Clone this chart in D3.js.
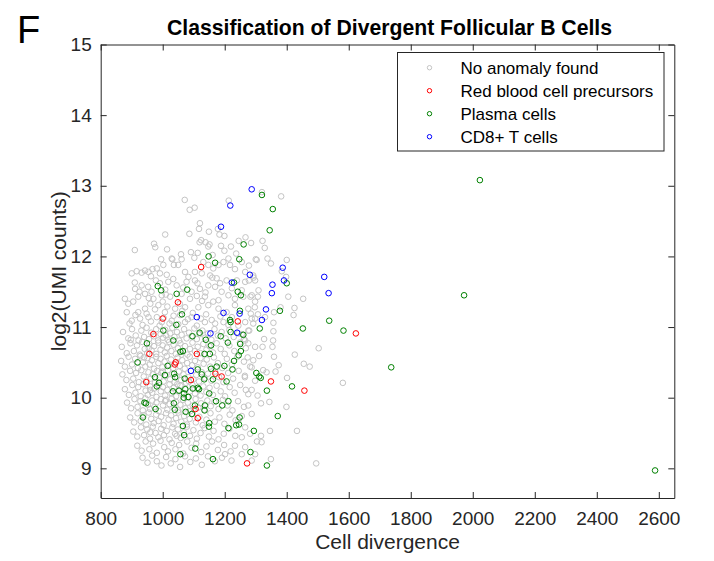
<!DOCTYPE html>
<html>
<head>
<meta charset="utf-8">
<script src="https://cdn.jsdelivr.net/npm/d3@7"></script>
<style>
  body { margin: 0; background: #fff; }
  svg { display: block; font-family: "Liberation Sans", Arial, sans-serif; }
</style>
</head>
<body>
<svg id="chart" width="714" height="561"></svg>
<script>
// ---- data ----
const xTicks = [800, 1000, 1200, 1400, 1600, 1800, 2000, 2200, 2400, 2600];
const yTicks = [9, 10, 11, 12, 13, 14, 15];

const legendLabels = ["No anomaly found", "Red blood cell precursors", "Plasma cells", "CD8+ T cells"];
const legendColors = ["#c4c4c4", "#ff0000", "#008000", "#0000ff"];

// grey cells, outer / sparse part of the cloud: [divergence, log2 UMI]
const noAnomalySparse = [
  [1320,12.91],[1382,12.85],[1322,12.22],[1285,12.19],[1329,12.12],[1300,11.96],[1338,11.97],[1349,11.90],
  [1400,11.95],[1384,11.79],[1398,11.71],[1293,11.70],[1278,11.66],[1309,11.52],[1283,11.43],[1307,11.43],
  [1405,11.43],[1453,11.40],[1425,11.27],[1422,11.17],[1380,11.28],[1359,11.21],[1297,11.28],[1284,11.19],
  [1287,11.12],[1307,11.18],[1330,11.14],[1357,11.06],[1276,10.77],[1298,10.72],[1265,10.29],[1298,10.24],
  [1287,10.43],[1274,10.57],[1292,10.53],[1276,10.95],[1292,11.05],[1255,10.90],[1266,10.81],[1287,10.11],
  [1276,10.05],[1276,9.89],[1287,9.77],[1266,9.58],[1282,9.49],[1244,9.68],[1255,9.44],[1233,9.32],
  [1255,9.20],[1222,9.11],[1201,9.20],[1287,9.11],[1266,9.30],
  [1357,10.94],[1327,10.83],[1356,10.81],[1354,10.72],[1322,10.72],[1311,10.59],[1359,10.58],[1426,10.61],
  [1503,10.70],[1455,10.48],[1474,10.44],[1374,10.46],[1364,10.37],[1335,10.36],[1324,10.39],[1401,10.28],
  [1581,10.21],[1306,10.03],[1317,9.92],[1344,9.94],[1399,9.87],[1346,9.53],[1433,9.53],[1317,9.46],
  [1319,9.37],[1304,9.38],[1349,9.13],[1495,9.07],[1298,9.20],
  [1213,12.79],[1071,12.80],[1087,12.66],[1103,12.69],[1120,12.47],[1117,12.39],[1086,12.32],[1008,12.31],
  [910,12.09],[972,12.18],[976,12.13],[1014,12.10],[1119,12.20],[1138,12.20],[1151,12.17],[1147,12.14],
  [1199,12.29],[1183,12.31],[1245,12.22],[1267,12.27],[1091,12.06],[1113,12.05],[1188,12.15],[1199,12.08],
  [1161,12.02],[1059,12.03],[1031,11.96],[995,11.96],[1212,11.97],[1237,12.04],[1178,12.39],[1149,12.35],
  [1124,12.23],[1220,12.14],
  [900,11.76],[916,11.79],[932,11.77],[943,11.80],[954,11.78],[967,11.82],[981,11.83],[991,11.76],
  [962,11.72],[1013,11.74],[1036,11.88],[1061,11.96],[1102,11.98],[1131,11.92],[1147,11.88],[1163,11.83],
  [1180,11.88],[1196,11.92],[1217,11.88],[1233,11.82],[1266,11.78],[1292,11.73],[1278,11.87],[1255,11.92],
  [1303,11.95],[1029,11.97],[1002,11.88],[1050,11.88],[1072,11.78],[1104,11.78],[1126,11.76],[1153,11.73],
  [1174,11.69],[1206,11.66],[1239,11.66],[1266,11.64],[1298,11.66],[878,11.40],[889,11.33],[905,11.36],
  [921,11.43],[943,11.47],[964,11.50],[997,11.45],[1024,11.43],[1061,11.47],[1093,11.50],[1120,11.54],
  [1147,11.59],[1169,11.57],[1190,11.50],[1212,11.45],[1233,11.40],[1260,11.43],[1287,11.45],[1298,11.36],
  [1276,11.26],[921,11.21],[943,11.26],[986,11.31],[1007,11.21],[1040,11.26],[1072,11.28],[1115,11.28],
  [1147,11.31],[1180,11.26],[1206,11.21],[1233,11.31],[900,11.09],[927,11.12],[954,11.14],[1029,11.09],
  [1072,11.07],[1136,11.07],[1169,11.05],[1266,11.07],[1298,11.12],[981,11.14],[997,11.07],[1056,11.17],
  [1093,11.14],[1110,11.02],[1196,11.07],[1223,11.14],[1244,11.02],[884,11.21],[970,11.40],[1045,11.59],
  [1077,11.64],[1104,11.66],[1088,11.40],[1136,11.43],[1163,11.36],[1255,11.52],[911,11.54],[932,11.59],
  [991,11.62],[1018,11.64],
  [893,11.05],[912,11.17],[935,11.03],[948,11.19],[962,11.08],[975,11.25],[990,11.02],[1003,11.13],
  [1015,11.29],[1022,11.05],[1035,11.16],[1050,11.04],[1063,11.23],[1081,11.11],[1097,11.20],[1123,11.12],
  [1140,11.18],[1158,11.10],[1186,11.15],[1212,11.03],[1055,11.33],[1000,11.36],[960,11.33],[1127,11.37],
  [1180,11.38],[910,11.63],[925,11.50],[953,11.57],[978,11.66],[1008,11.53],[1034,11.68],[1066,11.56],
  [1083,11.71],[1112,11.62],[1138,11.49],[1160,11.70],[1185,11.62],[1223,11.55],[955,11.41],[1010,11.46],
  [1110,11.44]
];

// grey cells, dense core of the cloud (9.0 - 11.0): [divergence, log2 UMI]
const noAnomalyCore = [
  [872,10.93],[889,10.84],[901,10.97],[913,10.88],[922,10.81],[931,10.95],[940,10.86],[948,10.99],[956,10.83],
  [963,10.92],[971,10.87],[979,10.97],[985,10.81],[993,10.90],[1001,10.85],[1008,10.96],[1016,10.82],[1024,10.91],
  [1031,10.99],[1038,10.86],[1046,10.93],[1053,10.81],[1061,10.89],[1069,10.97],[1077,10.84],[1085,10.92],
  [1093,10.87],[1102,10.98],[1110,10.83],[1119,10.90],[1128,10.95],[1137,10.85],[1146,10.91],[1157,10.82],
  [1167,10.97],[1178,10.88],[1190,10.93],[1203,10.84],[1215,10.96],[1229,10.86],[1244,10.91],[1262,10.83],
  [1279,10.95],[897,10.82],[1011,10.88],
  [868,10.72],[884,10.63],[896,10.77],[907,10.66],[917,10.74],[926,10.61],[934,10.79],[942,10.69],[950,10.63],
  [957,10.76],[964,10.67],[972,10.73],[979,10.62],[986,10.78],[993,10.68],[1000,10.74],[1007,10.64],[1014,10.71],
  [1021,10.79],[1028,10.66],[1035,10.75],[1042,10.62],[1049,10.70],[1057,10.77],[1064,10.65],[1072,10.73],
  [1080,10.61],[1088,10.69],[1096,10.78],[1104,10.66],[1113,10.72],[1122,10.63],[1131,10.76],[1141,10.68],
  [1151,10.73],[1162,10.64],[1174,10.77],[1187,10.69],[1200,10.62],[1215,10.74],[1231,10.66],[1249,10.78],
  [1268,10.70],[955,10.70],[1060,10.61],
  [866,10.52],[878,10.44],[890,10.58],[901,10.47],[911,10.55],[920,10.42],[928,10.59],[936,10.50],[944,10.44],
  [951,10.56],[958,10.47],[965,10.53],[972,10.41],[979,10.58],[986,10.49],[993,10.55],[999,10.43],[1006,10.51],
  [1013,10.59],[1020,10.46],[1027,10.54],[1034,10.42],[1041,10.50],[1048,10.57],[1055,10.45],[1063,10.53],
  [1071,10.41],[1079,10.49],[1087,10.58],[1095,10.46],[1104,10.52],[1113,10.43],[1122,10.56],[1132,10.48],
  [1142,10.54],[1153,10.44],[1165,10.57],[1178,10.49],[1192,10.42],[1207,10.55],[1223,10.47],[1241,10.58],
  [1262,10.51],[1282,10.44],[940,10.57],
  [870,10.33],[883,10.25],[895,10.38],[905,10.27],[914,10.35],[923,10.22],[931,10.39],[939,10.30],[947,10.24],
  [954,10.36],[961,10.27],[968,10.33],[975,10.21],[982,10.38],[989,10.29],[996,10.35],[1003,10.23],[1010,10.31],
  [1017,10.39],[1024,10.26],[1031,10.34],[1038,10.22],[1045,10.30],[1052,10.37],[1059,10.25],[1067,10.33],
  [1075,10.21],[1083,10.29],[1091,10.38],[1099,10.26],[1108,10.32],[1117,10.23],[1126,10.36],[1136,10.28],
  [1146,10.34],[1157,10.24],[1169,10.37],[1182,10.29],[1196,10.22],[1211,10.35],[1227,10.27],[1245,10.38],
  [1265,10.31],[1000,10.37],[1085,10.23],
  [878,10.12],[891,10.04],[902,10.18],[912,10.07],[921,10.15],[929,10.02],[937,10.19],[945,10.10],[952,10.04],
  [959,10.16],[966,10.07],[973,10.13],[980,10.01],[987,10.18],[994,10.09],[1001,10.15],[1008,10.03],[1015,10.11],
  [1022,10.19],[1029,10.06],[1036,10.14],[1043,10.02],[1050,10.10],[1057,10.17],[1064,10.05],[1072,10.13],
  [1080,10.01],[1088,10.09],[1096,10.18],[1104,10.06],[1113,10.12],[1122,10.03],[1131,10.16],[1141,10.08],
  [1151,10.14],[1162,10.04],[1174,10.17],[1187,10.09],[1201,10.02],[1216,10.15],[1232,10.07],[1250,10.18],
  [1268,10.11],[960,10.11],[1047,10.19],
  [885,9.93],[898,9.85],[909,9.98],[919,9.87],[928,9.95],[936,9.82],[944,9.99],[952,9.90],[959,9.84],
  [966,9.96],[973,9.87],[980,9.93],[987,9.81],[994,9.98],[1001,9.89],[1008,9.95],[1015,9.83],[1022,9.91],
  [1029,9.99],[1036,9.86],[1043,9.94],[1050,9.82],[1057,9.90],[1065,9.97],[1073,9.85],[1081,9.93],
  [1089,9.81],[1097,9.89],[1106,9.98],[1115,9.86],[1124,9.92],[1134,9.83],[1144,9.96],[1155,9.88],
  [1167,9.94],[1180,9.84],[1194,9.97],[1209,9.89],[1225,9.82],[1243,9.95],[1262,9.87],[1010,9.97],[1100,9.84],
  [895,9.72],[908,9.65],[919,9.78],[929,9.67],[938,9.75],[947,9.62],[955,9.79],[963,9.70],[971,9.64],
  [979,9.76],[987,9.67],[995,9.73],[1003,9.61],[1011,9.78],[1019,9.69],[1027,9.75],[1035,9.63],[1043,9.71],
  [1051,9.79],[1060,9.66],[1069,9.74],[1078,9.62],[1087,9.70],[1097,9.77],[1107,9.65],[1118,9.73],
  [1129,9.61],[1141,9.69],[1154,9.78],[1168,9.66],[1183,9.72],[1199,9.63],[1216,9.76],[1235,9.68],[1255,9.74],
  [905,9.52],[918,9.45],[930,9.58],[940,9.47],[950,9.55],[959,9.42],[968,9.59],[977,9.50],[986,9.44],
  [995,9.56],[1004,9.47],[1013,9.53],[1022,9.41],[1031,9.58],[1040,9.49],[1049,9.55],[1058,9.43],[1068,9.51],
  [1078,9.59],[1088,9.46],[1099,9.54],[1110,9.42],[1122,9.50],[1135,9.57],[1149,9.45],[1164,9.53],
  [1180,9.41],[1197,9.49],[1215,9.56],[1234,9.46],[960,9.51],[1045,9.46],
  [918,9.32],[932,9.25],[945,9.38],[957,9.27],[969,9.35],[981,9.22],[993,9.39],[1005,9.30],[1017,9.24],
  [1029,9.36],[1041,9.27],[1053,9.33],[1066,9.21],[1079,9.38],[1093,9.29],[1108,9.35],[1124,9.23],
  [1141,9.31],[1159,9.38],[1178,9.26],[1198,9.33],[1219,9.24],
  [935,9.15],[951,9.08],[966,9.18],[981,9.10],[996,9.04],[1011,9.16],[1026,9.07],[1041,9.13],[1056,9.02],
  [1072,9.17],[1089,9.09],[1107,9.14],[1126,9.05],[1146,9.17],[1168,9.10],[1191,9.15]
];

const rbcPrecursors = [
  [1124,11.85],[1049,11.35],[1000,11.12],[970,10.90],[1242,11.08],[957,10.62],[1110,10.62],[1042,10.50],
  [1039,10.47],[1170,10.34],[1190,10.30],[1091,10.25],[947,10.22],[1349,10.23],[1457,10.10],[1623,10.91],
  [1106,9.84],[1113,9.71],[1272,9.07]
];

const plasmaCells = [
  [1320,12.87],[1355,12.67],[1345,12.37],[1261,12.17],[1148,12.00],[1169,11.91],[1247,11.96],[1230,11.63],
  [1400,11.62],[1242,11.50],[1252,11.45],[984,11.58],[995,11.52],[1079,11.53],[1045,11.47],[1378,11.23],
  [1249,11.23],[1062,11.18],[1217,11.10],[1219,11.07],[1044,11.03],[1313,10.98],[1452,10.98],[1537,11.09],
  [1583,10.95],[1002,10.95],[1119,10.92],[1187,10.87],[1219,10.93],[1260,10.89],[1096,10.87],[1034,10.81],
  [1139,10.82],[1210,10.78],[949,10.77],[1156,10.74],[1250,10.76],[1065,10.66],[1057,10.65],[1252,10.66],
  [1135,10.62],[1152,10.62],[1245,10.60],[919,10.50],[1230,10.52],[1016,10.45],[1113,10.40],[1156,10.41],
  [1174,10.44],[1199,10.45],[1225,10.40],[1007,10.32],[1037,10.34],[1126,10.33],[1302,10.35],[1311,10.30],
  [1316,10.28],[975,10.29],[1040,10.29],[1071,10.27],[1134,10.26],[1206,10.23],[1162,10.26],[988,10.21],
  [981,10.16],[1073,10.12],[1097,10.13],[1113,10.14],[1117,10.12],[1053,10.10],[1033,10.09],[1069,10.06],
  [1150,10.06],[1336,10.10],[1417,10.16],[1068,10.00],[1083,10.01],[941,9.93],[946,9.92],[1036,9.92],
  [1172,9.95],[1212,9.95],[1136,9.89],[1104,9.89],[1192,9.89],[977,9.84],[1039,9.83],[1074,9.80],
  [1094,9.77],[1135,9.82],[936,9.72],[1248,9.72],[1371,9.74],[1150,9.64],[1065,9.60],[1149,9.59],
  [1212,9.57],[1237,9.61],[1246,9.62],[1069,9.47],[1294,9.53],[1105,9.28],[1283,9.23],[1057,9.20],
  [1162,9.13],[1336,9.04],[1737,10.43],[2023,13.08],[1972,11.45],[2588,8.97]
];

const cd8TCells = [
  [1287,12.95],[1218,12.72],[1188,12.42],[1387,11.84],[1281,11.74],[1223,11.63],[1521,11.71],[1391,11.66],
  [1354,11.60],[1535,11.48],[1352,11.48],[1333,11.25],[1110,11.14],[1196,11.20],[1248,11.19],[1320,11.10],
  [1154,10.91],[1240,10.92],[1091,10.38]
];

// ---- layout ----
const width = 714, height = 561;
const plot = { left: 100.7, right: 674.3, top: 44.5, bottom: 498 };
const axisColor = "#262626";
const markerR = 2.8;

const noAnomaly = noAnomalySparse.concat(noAnomalyCore);

const xScale = d3.scaleLinear().domain([800, 2650]).range([plot.left, plot.right]);
const yScale = d3.scaleLinear().domain([8.58, 15]).range([plot.bottom, plot.top]);

const svg = d3.select("#chart");
svg.append("rect").attr("width", width).attr("height", height).attr("fill", "#fff");

// markers: grey cloud first, then the flagged cells on top
const groups = [
  { data: noAnomaly, color: legendColors[0] },
  { data: plasmaCells, color: legendColors[2] },
  { data: rbcPrecursors, color: legendColors[1] },
  { data: cd8TCells, color: legendColors[3] },
];
groups.forEach(g => {
  svg.append("g")
    .attr("fill", "none")
    .attr("stroke", g.color)
    .attr("stroke-width", 1)
    .selectAll("circle")
    .data(g.data)
    .join("circle")
      .attr("cx", d => xScale(d[0]))
      .attr("cy", d => yScale(d[1]))
      .attr("r", markerR);
});

// axes (MATLAB style box with inward ticks on all four sides)
const tickLen = 6;
const fmt = d3.format("d");
function styleAxis(g) {
  g.selectAll(".domain").attr("stroke", axisColor);
  g.selectAll(".tick line").attr("stroke", axisColor);
  g.selectAll("text").attr("fill", axisColor).style("font-size", "19px")
    .style("font-family", "'Liberation Sans', Arial, sans-serif");
}

svg.append("g")
  .attr("transform", `translate(0,${plot.bottom})`)
  .call(d3.axisBottom(xScale).tickValues(xTicks).tickFormat(fmt)
    .tickSizeInner(-tickLen).tickSizeOuter(0).tickPadding(14))
  .call(styleAxis);
svg.append("g")
  .attr("transform", `translate(0,${plot.top})`)
  .call(d3.axisTop(xScale).tickValues(xTicks).tickSizeInner(-tickLen).tickSizeOuter(0).tickFormat(""))
  .call(styleAxis);
svg.append("g")
  .attr("transform", `translate(${plot.left},0)`)
  .call(d3.axisLeft(yScale).tickValues(yTicks).tickFormat(fmt)
    .tickSizeInner(-tickLen).tickSizeOuter(0).tickPadding(9))
  .call(styleAxis);
svg.append("g")
  .attr("transform", `translate(${plot.right},0)`)
  .call(d3.axisRight(yScale).tickValues(yTicks).tickSizeInner(-tickLen).tickSizeOuter(0).tickFormat(""))
  .call(styleAxis);

// titles
svg.append("text")
  .attr("x", 389.5).attr("y", 34.5)
  .attr("text-anchor", "middle")
  .attr("font-weight", "bold")
  .attr("font-size", 21.2)
  .attr("fill", "#000")
  .text("Classification of Divergent Follicular B Cells");

svg.append("text")
  .attr("x", 17).attr("y", 43)
  .attr("font-size", 38)
  .attr("fill", "#000")
  .text("F");

svg.append("text")
  .attr("x", (plot.left + plot.right) / 2).attr("y", 549)
  .attr("text-anchor", "middle")
  .attr("font-size", 21)
  .attr("fill", axisColor)
  .text("Cell divergence");

svg.append("text")
  .attr("transform", `translate(66,${(plot.top + plot.bottom) / 2}) rotate(-90)`)
  .attr("text-anchor", "middle")
  .attr("font-size", 21)
  .attr("fill", axisColor)
  .text("log2(UMI counts)");

// legend
const legend = svg.append("g").attr("transform", "translate(397.5,52.5)");
legend.append("rect")
  .attr("width", 266.5).attr("height", 98.5)
  .attr("fill", "#fff")
  .attr("stroke", axisColor)
  .attr("stroke-width", 1);
const rows = legend.selectAll("g.row")
  .data(legendLabels)
  .join("g")
    .attr("class", "row")
    .attr("transform", (d, i) => `translate(0,${15.2 + i * 23})`);
rows.append("circle")
  .attr("cx", 32).attr("cy", 0).attr("r", 2.2)
  .attr("fill", "none")
  .attr("stroke", (d, i) => legendColors[i])
  .attr("stroke-width", 1);
rows.append("text")
  .attr("x", 63).attr("y", 6)
  .attr("font-size", 17)
  .attr("fill", "#000")
  .text(d => d);
</script>
</body>
</html>
